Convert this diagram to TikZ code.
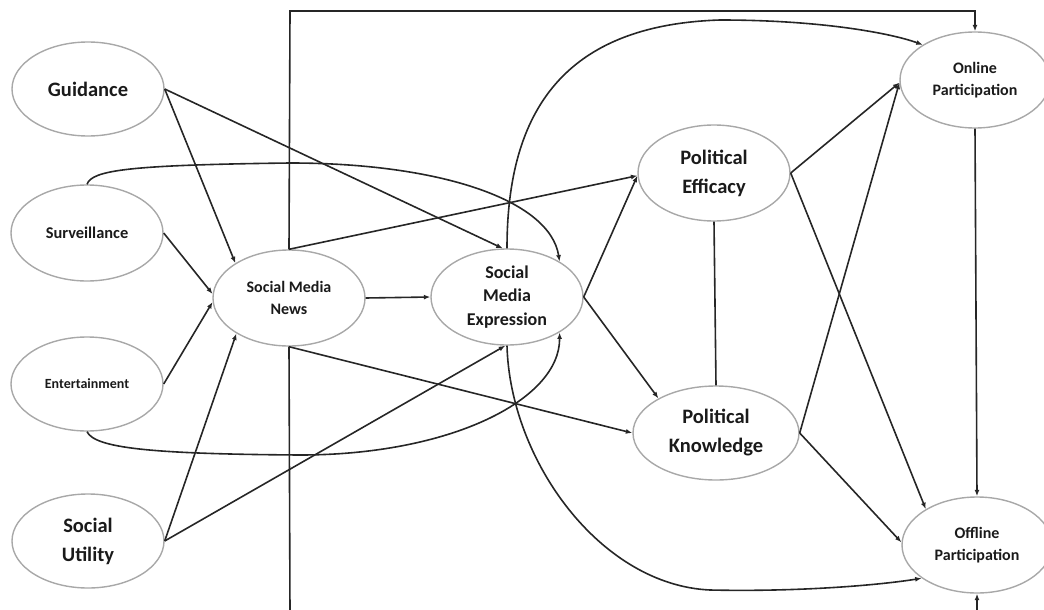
\documentclass[tikz,border=0pt]{standalone}
\usepackage{fontspec}
\setmainfont{Carlito}
\usetikzlibrary{shapes.geometric,arrows.meta}
\definecolor{edgec}{HTML}{262626}
\definecolor{ellc}{HTML}{A8A8A8}
\definecolor{txtc}{HTML}{1A1A1A}
\tikzset{
  var/.style={ellipse, draw=ellc, line width=1.4pt, minimum width=152pt, minimum height=95pt,
    inner sep=0pt, align=center, text=txtc},
  conn/.style={draw=edgec, line width=1.6pt, -{Latex[length=6.5pt,width=5pt]}},
  plainline/.style={draw=edgec, line width=1.6pt},
  fbig/.style={font=\bfseries\fontsize{20.5}{29}\selectfont},
  fmid/.style={font=\bfseries\fontsize{18}{23.5}\selectfont},
  fsmall/.style={font=\bfseries\fontsize{16}{21.5}\selectfont},
  fsurv/.style={font=\bfseries\fontsize{16.4}{20}\selectfont},
  fent/.style={font=\bfseries\fontsize{14}{18}\selectfont},
}
\begin{document}
\begin{tikzpicture}[x=1pt,y=-1pt]
\useasboundingbox (0,0) rectangle (1044,610);

% variables
\node[var, fbig, minimum height=94pt] (gd) at (88,89) {Guidance};
\node[var, fsurv, minimum height=96pt] (sv) at (87,233) {Surveillance};
\node[var, fent, minimum height=94pt] (et) at (87,384) {Entertainment};
\node[var, fbig, minimum height=94pt] (su) at (88,541) {Social\\Utility};
\node[var, fsmall, minimum height=96pt] (smn) at (289,298) {Social Media\\News};
\node[var, fmid, minimum height=96pt] (sme) at (507,297) {Social\\Media\\Expression};
\node[var, fbig, minimum height=96pt] (pe) at (714,173) {Political\\Efficacy};
\node[var, fbig, minimum width=166pt, minimum height=94pt] (pk) at (716,433) {Political\\Knowledge};
\node[var, fsmall, minimum width=150pt, minimum height=96pt] (op) at (975,80) {Online\\Participation};
\node[var, fsmall, minimum width=150pt, minimum height=96pt] (off) at (977,545) {Offline\\Participation};

% gratifications -> social media news / expression
\draw[conn] (gd.east) -- (smn.147);
\draw[conn] (gd.east) -- (sme.95);
\draw[conn] (sv.east) -- (smn.177);
\draw[conn] (sv.north) .. controls (92,170) and (130,165) .. (290,163)
  .. controls (440,163) and (550,200) .. (sme.34);
\draw[conn] (et.east) -- (smn.183);
\draw[conn] (et.south) .. controls (95,448) and (150,454) .. (300,455)
  .. controls (450,455) and (560,400) .. (sme.-34);
\draw[conn] (su.east) -- (smn.214);
\draw[conn] (su.east) -- (sme.268);

% social media news
\draw[conn] (smn.east) -- (sme.west);
\draw[conn] (smn.north) -- (pe.182);
\draw[conn] (smn.north) -- (290,11) -| (op.north);
\draw[conn] (smn.south) -- (pk.west);
\draw[conn] (smn.south) -- (290,614) -| (off.south);

% social media expression
\draw[conn] (sme.east) -- (pe.182);
\draw[conn] (sme.east) -- (pk.149);
\draw[conn] (sme.north) .. controls (507,110) and (565,25) .. (720,20)
  .. controls (820,20) and (890,33) .. (op.146);
\draw[conn] (sme.south) .. controls (510,460) and (600,585) .. (710,590)
  .. controls (800,592) and (880,585) .. (off.211);

% efficacy / knowledge
\draw[conn] (pe.east) -- (op.182);
\draw[conn] (pe.east) -- (off.145);
\draw[conn] (pk.east) -- (op.182);
\draw[conn] (pk.east) -- (off.178);
\draw[plainline] (pe.south) -- (pk.north);
\draw[conn] (op.south) -- (off.north);
\end{tikzpicture}
\end{document}
